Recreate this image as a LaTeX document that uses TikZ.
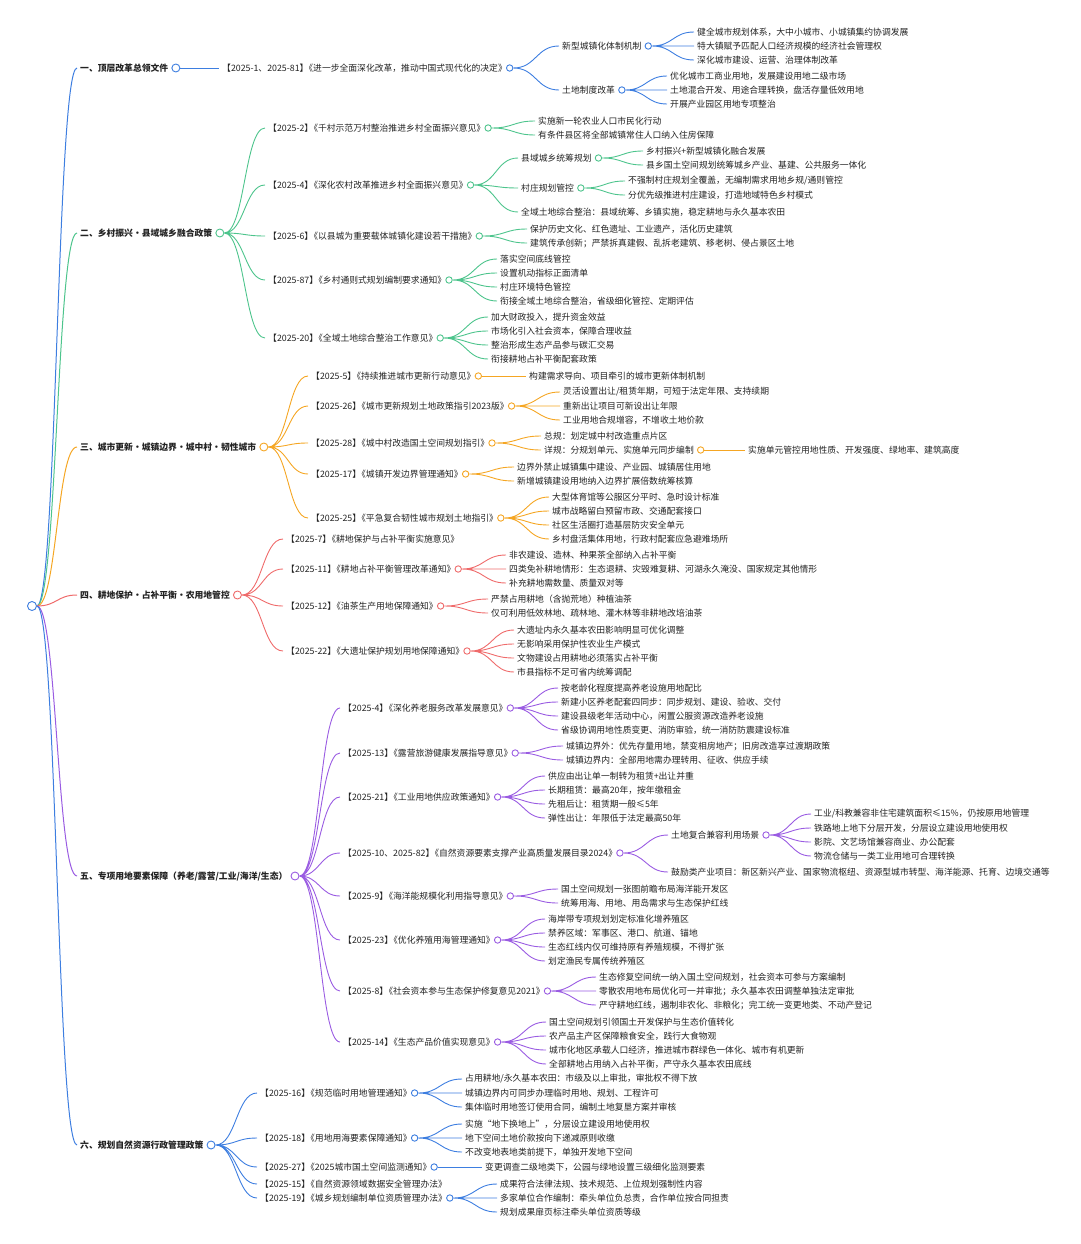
\documentclass[tikz,border=0pt]{standalone}
\usepackage{fontspec}
\setmainfont{Noto Sans CJK SC}
\usetikzlibrary{calc}
\definecolor{ink}{HTML}{222222}
\definecolor{mapblue}{HTML}{3D7EE0}
\definecolor{mapgreen}{HTML}{4DC48C}
\definecolor{maporange}{HTML}{F5A623}
\definecolor{mapred}{HTML}{EF6B6B}
\definecolor{mappurple}{HTML}{9A5CE2}
% document number + title, brackets set tight
\newcommand{\policy}[2]{【#1】\kern-4pt《#2》\kern-4pt}

\begin{document}
\begin{tikzpicture}[x=1pt,y=-1pt,font=\fontsize{8.8}{10}\selectfont,
  txt/.style={anchor=west,xshift=-3pt,inner xsep=3pt,inner ysep=1pt,text=ink},
  cat/.style={txt,font=\fontsize{8.8}{10}\selectfont\bfseries},
  dot/.style={circle,draw,fill=white,inner sep=0pt,minimum size=6.4pt,line width=0.9pt,anchor=west},
  twig/.style={to path={let \p1=(\tikztostart),\p2=(\tikztotarget),\n1={(\x2-\x1)/2} in
    .. controls (\x1+\n1,\y1) and (\x2-\n1,\y2) .. (\tikztotarget)}},
  br1/.style={draw=mapblue,line width=0.9pt},
  br2/.style={draw=mapgreen,line width=0.9pt},
  br3/.style={draw=maporange,line width=0.9pt},
  br4/.style={draw=mapred,line width=0.9pt},
  br5/.style={draw=mappurple,line width=0.9pt}]

\useasboundingbox (0,0) rectangle (1080,1244);

% root and the six policy groups
\node[dot,draw=mapblue,anchor=center,minimum size=9pt] (root) at (32,606) {};
\node[cat] (c1) at (80,68) {一、顶层改革总领文件};
\node[dot,draw=mapblue,minimum size=8pt] (c1o) at (c1.east) {};
\node[cat] (c2) at (80,233) {二、乡村振兴・县域城乡融合政策};
\node[dot,draw=mapgreen,minimum size=8pt] (c2o) at (c2.east) {};
\node[cat] (c3) at (80,447) {三、城市更新・城镇边界・城中村・韧性城市};
\node[dot,draw=maporange,minimum size=8pt] (c3o) at (c3.east) {};
\node[cat] (c4) at (80,595) {四、耕地保护・占补平衡・农用地管控};
\node[dot,draw=mapred,minimum size=8pt] (c4o) at (c4.east) {};
\node[cat] (c5) at (80,876) {五、专项用地要素保障（养老/露营/工业/海洋/生态）};
\node[dot,draw=mappurple,minimum size=8pt] (c5o) at (c5.east) {};
\node[cat] (c6) at (80,1145) {六、规划自然资源行政管理政策};
\node[dot,draw=mapblue,minimum size=8pt] (c6o) at (c6.east) {};

\draw[br1,line width=1pt] (root.east) to[twig] (c1.west);
\draw[br2,line width=1pt] (root.east) to[twig] (c2.west);
\draw[br3,line width=1pt] (root.east) to[twig] (c3.west);
\draw[br4,line width=1pt] (root.east) to[twig] (c4.west);
\draw[br5,line width=1pt] (root.east) to[twig] (c5.west);
\draw[br1,line width=1pt] (root.east) to[twig] (c6.west);

% group 1
\node[txt] (d1) at (222,68) {\policy{2025-1、2025-81}{进一步全面深化改革，推动中国式现代化的决定}};
\node[dot,draw=mapblue] (d1o) at (d1.east) {};
\node[txt] (s1a) at (562,46) {新型城镇化体制机制};
\node[dot,draw=mapblue] (s1ao) at (s1a.east) {};
\node[txt] (s1a1) at (697,32) {健全城市规划体系，大中小城市、小城镇集约协调发展};
\node[txt] (s1a2) at (697,46) {特大镇赋予匹配人口经济规模的经济社会管理权};
\node[txt] (s1a3) at (697,60) {深化城市建设、运营、治理体制改革};
\node[txt] (s1b) at (562,90) {土地制度改革};
\node[dot,draw=mapblue] (s1bo) at (s1b.east) {};
\node[txt] (s1b1) at (670,76) {优化城市工商业用地，发展建设用地二级市场};
\node[txt] (s1b2) at (670,90) {土地混合开发、用途合理转换，盘活存量低效用地};
\node[txt] (s1b3) at (670,104) {开展产业园区用地专项整治};

\draw[br1] (c1o.east) to[twig] (d1.west);
\draw[br1] (d1o.east) to[twig] (s1a.west) (d1o.east) to[twig] (s1b.west);
\draw[br1] (s1ao.east) to[twig] (s1a1.west) (s1ao.east) to[twig] (s1a2.west)
  (s1ao.east) to[twig] (s1a3.west);
\draw[br1] (s1bo.east) to[twig] (s1b1.west) (s1bo.east) to[twig] (s1b2.west)
  (s1bo.east) to[twig] (s1b3.west);

% group 2
\node[txt] (d2a) at (268,128) {\policy{2025-2}{千村示范万村整治推进乡村全面振兴意见}};
\node[dot,draw=mapgreen] (d2ao) at (d2a.east) {};
\node[txt] (d2a1) at (538,121) {实施新一轮农业人口市民化行动};
\node[txt] (d2a2) at (538,135) {有条件县区将全部城镇常住人口纳入住房保障};
\node[txt] (d2b) at (268,185) {\policy{2025-4}{深化农村改革推进乡村全面振兴意见}};
\node[dot,draw=mapgreen] (d2bo) at (d2b.east) {};
\node[txt] (s2a) at (521,158) {县域城乡统筹规划};
\node[dot,draw=mapgreen] (s2ao) at (s2a.east) {};
\node[txt] (s2a1) at (646,151) {乡村振兴+新型城镇化融合发展};
\node[txt] (s2a2) at (646,165) {县乡国土空间规划统筹城乡产业、基建、公共服务一体化};
\node[txt] (s2b) at (521,188) {村庄规划管控};
\node[dot,draw=mapgreen] (s2bo) at (s2b.east) {};
\node[txt] (s2b1) at (628,181) {不强制村庄规划全覆盖，无编制需求用地乡规/通则管控};
\node[txt] (s2b2) at (628,195) {分优先级推进村庄建设，打造地域特色乡村模式};
\node[txt] (d2b3) at (521,212) {全域土地综合整治：县域统筹、乡镇实施，稳定耕地与永久基本农田};
\node[txt] (d2c) at (268,236) {\policy{2025-6}{以县城为重要载体城镇化建设若干措施}};
\node[dot,draw=mapgreen] (d2co) at (d2c.east) {};
\node[txt] (d2c1) at (530,229) {保护历史文化、红色遗址、工业遗产，活化历史建筑};
\node[txt] (d2c2) at (530,243) {建筑传承创新；严禁拆真建假、乱拆老建筑、移老树、侵占景区土地};
\node[txt] (d2d) at (268,280) {\policy{2025-87}{乡村通则式规划编制要求通知}};
\node[dot,draw=mapgreen] (d2do) at (d2d.east) {};
\node[txt] (d2d1) at (500,259) {落实空间底线管控};
\node[txt] (d2d2) at (500,273) {设置机动指标正面清单};
\node[txt] (d2d3) at (500,287) {村庄环境特色管控};
\node[txt] (d2d4) at (500,301) {衔接全域土地综合整治，省级细化管控、定期评估};
\node[txt] (d2e) at (268,338) {\policy{2025-20}{全域土地综合整治工作意见}};
\node[dot,draw=mapgreen] (d2eo) at (d2e.east) {};
\node[txt] (d2e1) at (491,317) {加大财政投入，提升资金效益};
\node[txt] (d2e2) at (491,331) {市场化引入社会资本，保障合理收益};
\node[txt] (d2e3) at (491,345) {整治形成生态产品参与碳汇交易};
\node[txt] (d2e4) at (491,359) {衔接耕地占补平衡配套政策};

\draw[br2] (c2o.east) to[twig] (d2a.west) (c2o.east) to[twig] (d2b.west)
  (c2o.east) to[twig] (d2c.west) (c2o.east) to[twig] (d2d.west)
  (c2o.east) to[twig] (d2e.west);
\draw[br2] (d2ao.east) to[twig] (d2a1.west) (d2ao.east) to[twig] (d2a2.west);
\draw[br2] (d2bo.east) to[twig] (s2a.west) (d2bo.east) to[twig] (s2b.west)
  (d2bo.east) to[twig] (d2b3.west);
\draw[br2] (s2ao.east) to[twig] (s2a1.west) (s2ao.east) to[twig] (s2a2.west);
\draw[br2] (s2bo.east) to[twig] (s2b1.west) (s2bo.east) to[twig] (s2b2.west);
\draw[br2] (d2co.east) to[twig] (d2c1.west) (d2co.east) to[twig] (d2c2.west);
\draw[br2] (d2do.east) to[twig] (d2d1.west) (d2do.east) to[twig] (d2d2.west)
  (d2do.east) to[twig] (d2d3.west) (d2do.east) to[twig] (d2d4.west);
\draw[br2] (d2eo.east) to[twig] (d2e1.west) (d2eo.east) to[twig] (d2e2.west)
  (d2eo.east) to[twig] (d2e3.west) (d2eo.east) to[twig] (d2e4.west);

% group 3
\node[txt] (d3a) at (311,376) {\policy{2025-5}{持续推进城市更新行动意见}};
\node[dot,draw=maporange] (d3ao) at (d3a.east) {};
\node[txt] (d3a1) at (529,376) {构建需求导向、项目牵引的城市更新体制机制};
\node[txt] (d3b) at (311,406) {\policy{2025-26}{城市更新规划土地政策指引2023版}};
\node[dot,draw=maporange] (d3bo) at (d3b.east) {};
\node[txt] (d3b1) at (563,392) {灵活设置出让/租赁年期，可短于法定年限、支持续期};
\node[txt] (d3b2) at (563,406) {重新出让项目可新设出让年限};
\node[txt] (d3b3) at (563,420) {工业用地合规增容，不增收土地价款};
\node[txt] (d3c) at (311,443) {\policy{2025-28}{城中村改造国土空间规划指引}};
\node[dot,draw=maporange] (d3co) at (d3c.east) {};
\node[txt] (d3c1) at (544,436) {总规：划定城中村改造重点片区};
\node[txt] (s3) at (544,450) {详规：分规划单元、实施单元同步编制};
\node[dot,draw=maporange] (s3o) at (s3.east) {};
\node[txt] (s31) at (748,450) {实施单元管控用地性质、开发强度、绿地率、建筑高度};
\node[txt] (d3d) at (311,474) {\policy{2025-17}{城镇开发边界管理通知}};
\node[dot,draw=maporange] (d3do) at (d3d.east) {};
\node[txt] (d3d1) at (517,467) {边界外禁止城镇集中建设、产业园、城镇居住用地};
\node[txt] (d3d2) at (517,481) {新增城镇建设用地纳入边界扩展倍数统筹核算};
\node[txt] (d3e) at (311,518) {\policy{2025-25}{平急复合韧性城市规划土地指引}};
\node[dot,draw=maporange] (d3eo) at (d3e.east) {};
\node[txt] (d3e1) at (552,497) {大型体育馆等公服区分平时、急时设计标准};
\node[txt] (d3e2) at (552,511) {城市战略留白预留市政、交通配套接口};
\node[txt] (d3e3) at (552,525) {社区生活圈打造基层防灾安全单元};
\node[txt] (d3e4) at (552,539) {乡村盘活集体用地，行政村配套应急避难场所};

\draw[br3] (c3o.east) to[twig] (d3a.west) (c3o.east) to[twig] (d3b.west)
  (c3o.east) to[twig] (d3c.west) (c3o.east) to[twig] (d3d.west)
  (c3o.east) to[twig] (d3e.west);
\draw[br3] (d3ao.east) to[twig] (d3a1.west);
\draw[br3] (d3bo.east) to[twig] (d3b1.west) (d3bo.east) to[twig] (d3b2.west)
  (d3bo.east) to[twig] (d3b3.west);
\draw[br3] (d3co.east) to[twig] (d3c1.west) (d3co.east) to[twig] (s3.west);
\draw[br3] (s3o.east) to[twig] (s31.west);
\draw[br3] (d3do.east) to[twig] (d3d1.west) (d3do.east) to[twig] (d3d2.west);
\draw[br3] (d3eo.east) to[twig] (d3e1.west) (d3eo.east) to[twig] (d3e2.west)
  (d3eo.east) to[twig] (d3e3.west) (d3eo.east) to[twig] (d3e4.west);

% group 4
\node[txt] (d4a) at (286,539) {\policy{2025-7}{耕地保护与占补平衡实施意见}};
\node[txt] (d4b) at (286,569) {\policy{2025-11}{耕地占补平衡管理改革通知}};
\node[dot,draw=mapred] (d4bo) at (d4b.east) {};
\node[txt] (d4b1) at (509,555) {非农建设、造林、种果茶全部纳入占补平衡};
\node[txt] (d4b2) at (509,569) {四类免补耕地情形：生态退耕、灾毁难复耕、河湖永久淹没、国家规定其他情形};
\node[txt] (d4b3) at (509,583) {补充耕地需数量、质量双对等};
\node[txt] (d4c) at (286,606) {\policy{2025-12}{油茶生产用地保障通知}};
\node[dot,draw=mapred] (d4co) at (d4c.east) {};
\node[txt] (d4c1) at (491,599) {严禁占用耕地（含抛荒地）种植油茶};
\node[txt] (d4c2) at (491,613) {仅可利用低效林地、疏林地、灌木林等非耕地改培油茶};
\node[txt] (d4d) at (286,651) {\policy{2025-22}{大遗址保护规划用地保障通知}};
\node[dot,draw=mapred] (d4do) at (d4d.east) {};
\node[txt] (d4d1) at (517,630) {大遗址内永久基本农田影响明显可优化调整};
\node[txt] (d4d2) at (517,644) {无影响采用保护性农业生产模式};
\node[txt] (d4d3) at (517,658) {文物建设占用耕地必须落实占补平衡};
\node[txt] (d4d4) at (517,672) {市县指标不足可省内统筹调配};

\draw[br4] (c4o.east) to[twig] (d4a.west) (c4o.east) to[twig] (d4b.west)
  (c4o.east) to[twig] (d4c.west) (c4o.east) to[twig] (d4d.west);
\draw[br4] (d4bo.east) to[twig] (d4b1.west) (d4bo.east) to[twig] (d4b2.west)
  (d4bo.east) to[twig] (d4b3.west);
\draw[br4] (d4co.east) to[twig] (d4c1.west) (d4co.east) to[twig] (d4c2.west);
\draw[br4] (d4do.east) to[twig] (d4d1.west) (d4do.east) to[twig] (d4d2.west)
  (d4do.east) to[twig] (d4d3.west) (d4do.east) to[twig] (d4d4.west);

% group 5
\node[txt] (d5a) at (343,708) {\policy{2025-4}{深化养老服务改革发展意见}};
\node[dot,draw=mappurple] (d5ao) at (d5a.east) {};
\node[txt] (d5a1) at (561,688) {按老龄化程度提高养老设施用地配比};
\node[txt] (d5a2) at (561,702) {新建小区养老配套四同步：同步规划、建设、验收、交付};
\node[txt] (d5a3) at (561,716) {建设县级老年活动中心，闲置公服资源改造养老设施};
\node[txt] (d5a4) at (561,730) {省级协调用地性质变更、消防审验，统一消防防震建设标准};
\node[txt] (d5b) at (343,753) {\policy{2025-13}{露营旅游健康发展指导意见}};
\node[dot,draw=mappurple] (d5bo) at (d5b.east) {};
\node[txt] (d5b1) at (566,746) {城镇边界外：优先存量用地，禁变相房地产；旧房改造享过渡期政策};
\node[txt] (d5b2) at (566,760) {城镇边界内：全部用地需办理转用、征收、供应手续};
\node[txt] (d5c) at (343,797) {\policy{2025-21}{工业用地供应政策通知}};
\node[dot,draw=mappurple] (d5co) at (d5c.east) {};
\node[txt] (d5c1) at (548,776) {供应由出让单一制转为租赁+出让并重};
\node[txt] (d5c2) at (548,790) {长期租赁：最高20年，按年缴租金};
\node[txt] (d5c3) at (548,804) {先租后让：租赁期一般≤5年};
\node[txt] (d5c4) at (548,818) {弹性出让：年限低于法定最高50年};
\node[txt] (d5d) at (343,853) {\policy{2025-10、2025-82}{自然资源要素支撑产业高质量发展目录2024}};
\node[dot,draw=mappurple] (d5do) at (d5d.east) {};
\node[txt] (s5) at (671,835) {土地复合兼容利用场景};
\node[dot,draw=mappurple] (s5o) at (s5.east) {};
\node[txt] (s51) at (814,814) {工业/科教兼容非住宅建筑面积≤15\%，仍按原用地管理};
\node[txt] (s52) at (814,828) {铁路地上地下分层开发，分层设立建设用地使用权};
\node[txt] (s53) at (814,842) {影院、文艺场馆兼容商业、办公配套};
\node[txt] (s54) at (814,856) {物流仓储与一类工业用地可合理转换};
\node[txt] (d5d2) at (671,872) {鼓励类产业项目：新区新兴产业、国家物流枢纽、资源型城市转型、海洋能源、托育、边境交通等};
\node[txt] (d5e) at (343,896) {\policy{2025-9}{海洋能规模化利用指导意见}};
\node[dot,draw=mappurple] (d5eo) at (d5e.east) {};
\node[txt] (d5e1) at (561,889) {国土空间规划一张图前瞻布局海洋能开发区};
\node[txt] (d5e2) at (561,903) {统筹用海、用地、用岛需求与生态保护红线};
\node[txt] (d5f) at (343,940) {\policy{2025-23}{优化养殖用海管理通知}};
\node[dot,draw=mappurple] (d5fo) at (d5f.east) {};
\node[txt] (d5f1) at (548,919) {海岸带专项规划划定标准化增养殖区};
\node[txt] (d5f2) at (548,933) {禁养区域：军事区、港口、航道、锚地};
\node[txt] (d5f3) at (548,947) {生态红线内仅可维持原有养殖规模，不得扩张};
\node[txt] (d5f4) at (548,961) {划定渔民专属传统养殖区};
\node[txt] (d5g) at (343,991) {\policy{2025-8}{社会资本参与生态保护修复意见2021}};
\node[dot,draw=mappurple] (d5go) at (d5g.east) {};
\node[txt] (d5g1) at (599,977) {生态修复空间统一纳入国土空间规划，社会资本可参与方案编制};
\node[txt] (d5g2) at (599,991) {零散农用地布局优化可一并审批；永久基本农田调整单独法定审批};
\node[txt] (d5g3) at (599,1005) {严守耕地红线，遏制非农化、非粮化；完工统一变更地类、不动产登记};
\node[txt] (d5h) at (343,1042) {\policy{2025-14}{生态产品价值实现意见}};
\node[dot,draw=mappurple] (d5ho) at (d5h.east) {};
\node[txt] (d5h1) at (549,1022) {国土空间规划引领国土开发保护与生态价值转化};
\node[txt] (d5h2) at (549,1036) {农产品主产区保障粮食安全，践行大食物观};
\node[txt] (d5h3) at (549,1050) {城市化地区承载人口经济，推进城市群绿色一体化、城市有机更新};
\node[txt] (d5h4) at (549,1064) {全部耕地占用纳入占补平衡，严守永久基本农田底线};

\draw[br5] (c5o.east) to[twig] (d5a.west) (c5o.east) to[twig] (d5b.west)
  (c5o.east) to[twig] (d5c.west) (c5o.east) to[twig] (d5d.west)
  (c5o.east) to[twig] (d5e.west) (c5o.east) to[twig] (d5f.west)
  (c5o.east) to[twig] (d5g.west) (c5o.east) to[twig] (d5h.west);
\draw[br5] (d5ao.east) to[twig] (d5a1.west) (d5ao.east) to[twig] (d5a2.west)
  (d5ao.east) to[twig] (d5a3.west) (d5ao.east) to[twig] (d5a4.west);
\draw[br5] (d5bo.east) to[twig] (d5b1.west) (d5bo.east) to[twig] (d5b2.west);
\draw[br5] (d5co.east) to[twig] (d5c1.west) (d5co.east) to[twig] (d5c2.west)
  (d5co.east) to[twig] (d5c3.west) (d5co.east) to[twig] (d5c4.west);
\draw[br5] (d5do.east) to[twig] (s5.west) (d5do.east) to[twig] (d5d2.west);
\draw[br5] (s5o.east) to[twig] (s51.west) (s5o.east) to[twig] (s52.west)
  (s5o.east) to[twig] (s53.west) (s5o.east) to[twig] (s54.west);
\draw[br5] (d5eo.east) to[twig] (d5e1.west) (d5eo.east) to[twig] (d5e2.west);
\draw[br5] (d5fo.east) to[twig] (d5f1.west) (d5fo.east) to[twig] (d5f2.west)
  (d5fo.east) to[twig] (d5f3.west) (d5fo.east) to[twig] (d5f4.west);
\draw[br5] (d5go.east) to[twig] (d5g1.west) (d5go.east) to[twig] (d5g2.west)
  (d5go.east) to[twig] (d5g3.west);
\draw[br5] (d5ho.east) to[twig] (d5h1.west) (d5ho.east) to[twig] (d5h2.west)
  (d5ho.east) to[twig] (d5h3.west) (d5ho.east) to[twig] (d5h4.west);

% group 6
\node[txt] (d6a) at (260,1093) {\policy{2025-16}{规范临时用地管理通知}};
\node[dot,draw=mapblue] (d6ao) at (d6a.east) {};
\node[txt] (d6a1) at (465,1079) {占用耕地/永久基本农田：市级及以上审批，审批权不得下放};
\node[txt] (d6a2) at (465,1093) {城镇边界内可同步办理临时用地、规划、工程许可};
\node[txt] (d6a3) at (465,1107) {集体临时用地签订使用合同，编制土地复垦方案并审核};
\node[txt] (d6b) at (260,1138) {\policy{2025-18}{用地用海要素保障通知}};
\node[dot,draw=mapblue] (d6bo) at (d6b.east) {};
\node[txt] (d6b1) at (465,1124) {实施“地下换地上”，分层设立建设用地使用权};
\node[txt] (d6b2) at (465,1138) {地下空间土地价款按向下递减原则收缴};
\node[txt] (d6b3) at (465,1152) {不改变地表地类前提下，单独开发地下空间};
\node[txt] (d6c) at (260,1167) {\policy{2025-27}{2025城市国土空间监测通知}};
\node[dot,draw=mapblue] (d6co) at (d6c.east) {};
\node[txt] (d6c1) at (485,1167) {变更调查二级地类下，公园与绿地设置三级细化监测要素};
\node[txt] (d6d) at (260,1184) {\policy{2025-15}{自然资源领域数据安全管理办法}};
\node[txt] (d6e) at (260,1198) {\policy{2025-19}{城乡规划编制单位资质管理办法}};
\node[dot,draw=mapblue] (d6eo) at (d6e.east) {};
\node[txt] (d6e1) at (500,1184) {成果符合法律法规、技术规范、上位规划强制性内容};
\node[txt] (d6e2) at (500,1198) {多家单位合作编制：牵头单位负总责，合作单位按合同担责};
\node[txt] (d6e3) at (500,1212) {规划成果扉页标注牵头单位资质等级};

\draw[br1] (c6o.east) to[twig] (d6a.west) (c6o.east) to[twig] (d6b.west)
  (c6o.east) to[twig] (d6c.west) (c6o.east) to[twig] (d6d.west)
  (c6o.east) to[twig] (d6e.west);
\draw[br1] (d6ao.east) to[twig] (d6a1.west) (d6ao.east) to[twig] (d6a2.west)
  (d6ao.east) to[twig] (d6a3.west);
\draw[br1] (d6bo.east) to[twig] (d6b1.west) (d6bo.east) to[twig] (d6b2.west)
  (d6bo.east) to[twig] (d6b3.west);
\draw[br1] (d6co.east) to[twig] (d6c1.west);
\draw[br1] (d6eo.east) to[twig] (d6e1.west) (d6eo.east) to[twig] (d6e2.west)
  (d6eo.east) to[twig] (d6e3.west);

\end{tikzpicture}
\end{document}
